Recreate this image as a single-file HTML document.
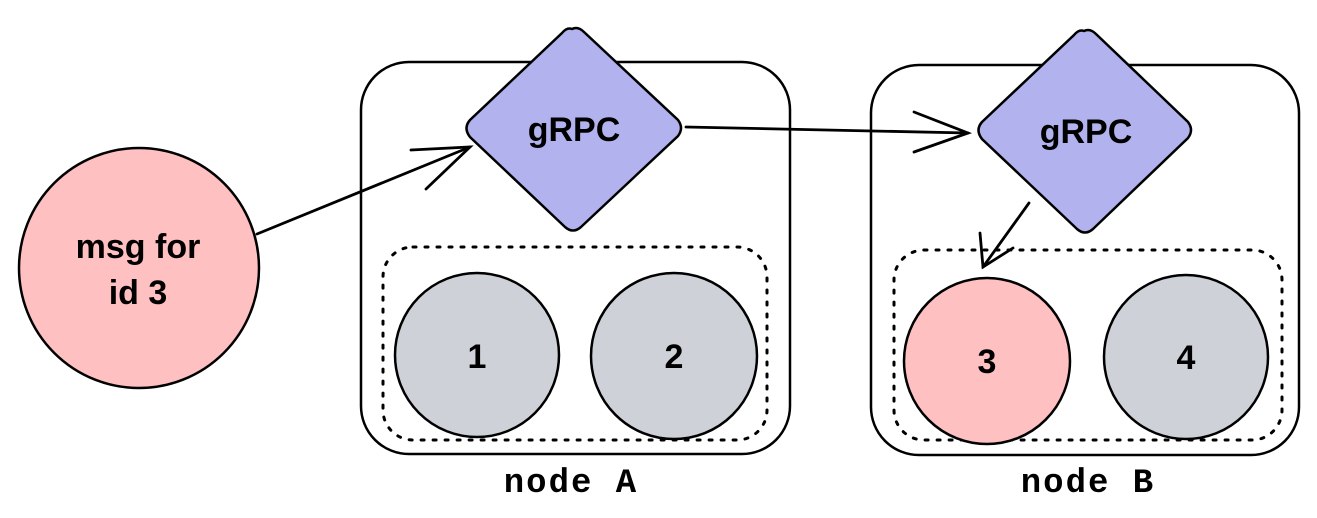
<!DOCTYPE html>
<html><head><style>
html,body{margin:0;padding:0;background:#fff;}
svg{display:block;}
.hand{font-family:"Liberation Sans",sans-serif;}
</style></head><body>
<svg width="1317" height="518" viewBox="0 0 1317 518" xmlns="http://www.w3.org/2000/svg">
<g fill="none" stroke="#000" stroke-width="2.5" stroke-linecap="round">
<rect x="361" y="62" width="429" height="392" rx="48"/>
<rect x="871" y="65" width="428" height="390" rx="48"/>
<rect x="383" y="247" width="384" height="193" rx="30" stroke-dasharray="3 9" stroke-width="3"/>
<rect x="894" y="250" width="388" height="190" rx="30" stroke-dasharray="3 9" stroke-width="3"/>
</g>
<circle cx="139" cy="268" r="120" fill="#ffc0c2" stroke="#000" stroke-width="2.5"/>
<circle cx="477" cy="355" r="82" fill="#ced2d8" stroke="#000" stroke-width="2.5"/>
<circle cx="674" cy="356" r="83" fill="#ced2d8" stroke="#000" stroke-width="2.5"/>
<circle cx="987" cy="361" r="83" fill="#ffc0c2" stroke="#000" stroke-width="2.5"/>
<circle cx="1186" cy="357" r="82" fill="#ced2d8" stroke="#000" stroke-width="2.5"/>
<path d="M572 29 Q578 26 584 32 L678 120 Q684 128 678 136 L581 227 Q573 234 565 227 L470 137 Q463 128 470 120 L562 33 Q567 27 572 29Z" fill="#b2b3ee" stroke="#000" stroke-width="2.5"/>
<path d="M1084 31 Q1090 28 1096 34 L1188 122 Q1194 130 1188 138 L1093 229 Q1085 236 1077 229 L982 139 Q975 130 982 122 L1074 35 Q1079 29 1084 31Z" fill="#b2b3ee" stroke="#000" stroke-width="2.5"/>
<g fill="none" stroke="#000" stroke-width="2.8" stroke-linecap="round">
<path d="M257 234 L470 147"/>
<path d="M411 150 L470 147 L426 189"/>
<path d="M686 127 L968 133"/>
<path d="M914 112 L968 133 L914 152"/>
<path d="M1029 203 L983 267"/>
<path d="M980 233 L983 267 L1013 248"/>
</g>
<g class="hand" font-size="34" font-weight="bold" text-anchor="middle" fill="#000">
<text x="574" y="141">gRPC</text>
<text x="1086" y="143">gRPC</text>
<text x="138" y="258">msg for</text>
<text x="138" y="304">id 3</text>
<text x="477" y="368">1</text>
<text x="674" y="368">2</text>
<text x="987" y="373">3</text>
<text x="1186" y="369">4</text>
</g>
<g font-family="Liberation Mono, monospace" font-size="34" font-weight="bold" text-anchor="middle" fill="#000" letter-spacing="2">
<text x="571" y="492">node A</text>
<text x="1088" y="492">node B</text>
</g>
</svg>
</body></html>
